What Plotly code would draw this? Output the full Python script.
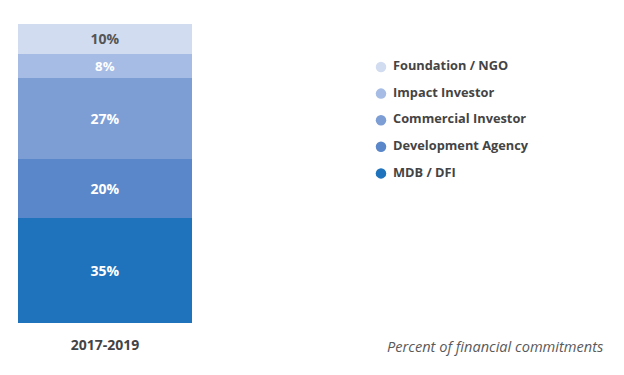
import plotly.graph_objects as go

categories = ["2017-2019"]
segments = ["MDB / DFI", "Development Agency", "Commercial Investor", "Impact Investor", "Foundation / NGO"]
values = [35, 20, 27, 8, 10]
colors = ["#1f73bc", "#5a87c9", "#7d9dd5", "#a6bce4", "#d2dcf1"]
text_colors = ["#ffffff", "#ffffff", "#ffffff", "#ffffff", "#555555"]
note = "Percent of financial commitments"

# the page body has an 8px margin; figure coordinates below are relative to the figure
W, H = 616, 367
fig = go.Figure()
for seg, v, c, tc in zip(segments, values, colors, text_colors):
    fig.add_trace(go.Bar(
        x=categories, y=[v], name=seg, marker=dict(color=c, line=dict(width=0)),
        text=[f"{v}%"], textposition="inside", insidetextanchor="middle",
        textfont=dict(family="Open Sans", size=14, color=tc, weight="bold"),
        width=1, showlegend=False, hoverinfo="skip",
    ))

# legend drawn as circular markers + labels (Foundation on top -> MDB at bottom)
leg_labels = list(reversed(segments))
leg_colors = list(reversed(colors))
row_y = [59 + 26.6 * i for i in range(len(leg_labels))]
fig.add_trace(go.Scatter(
    x=[373] * len(leg_labels), y=row_y, mode="markers",
    marker=dict(color=leg_colors, size=10.5, symbol="circle", line=dict(width=0)),
    xaxis="x2", yaxis="y2", showlegend=False, hoverinfo="skip",
))
fig.add_trace(go.Scatter(
    x=[385] * len(leg_labels), y=row_y, mode="text", text=leg_labels,
    textposition="middle right",
    textfont=dict(family="Open Sans", size=12.8, color="#444444", weight="bold"),
    xaxis="x2", yaxis="y2", showlegend=False, hoverinfo="skip",
))

fig.update_layout(
    width=W, height=H, barmode="stack",
    margin=dict(l=0, r=0, t=0, b=0),
    paper_bgcolor="white", plot_bgcolor="rgba(0,0,0,0)",
    showlegend=False,
    xaxis=dict(domain=[10 / W, 184 / W], range=[-0.5, 0.5], showgrid=False, zeroline=False,
               showline=False, ticks="", ticklabelstandoff=12,
               tickfont=dict(family="Open Sans", size=14, color="#444444", weight="bold")),
    yaxis=dict(domain=[(H - 315) / H, (H - 16) / H], range=[0, 100], visible=False),
    xaxis2=dict(domain=[0, 1], range=[0, W], visible=False, anchor="y2"),
    yaxis2=dict(domain=[0, 1], range=[H, 0], visible=False, anchor="x2"),
    annotations=[dict(text=f"<i>{note}</i>", x=597 / W, y=(H - 338) / H, xref="paper", yref="paper",
                      xanchor="right", yanchor="middle", showarrow=False,
                      font=dict(family="Open Sans", size=14.6, color="#5a5a5a"))],
)
fig.write_html("out.html")
